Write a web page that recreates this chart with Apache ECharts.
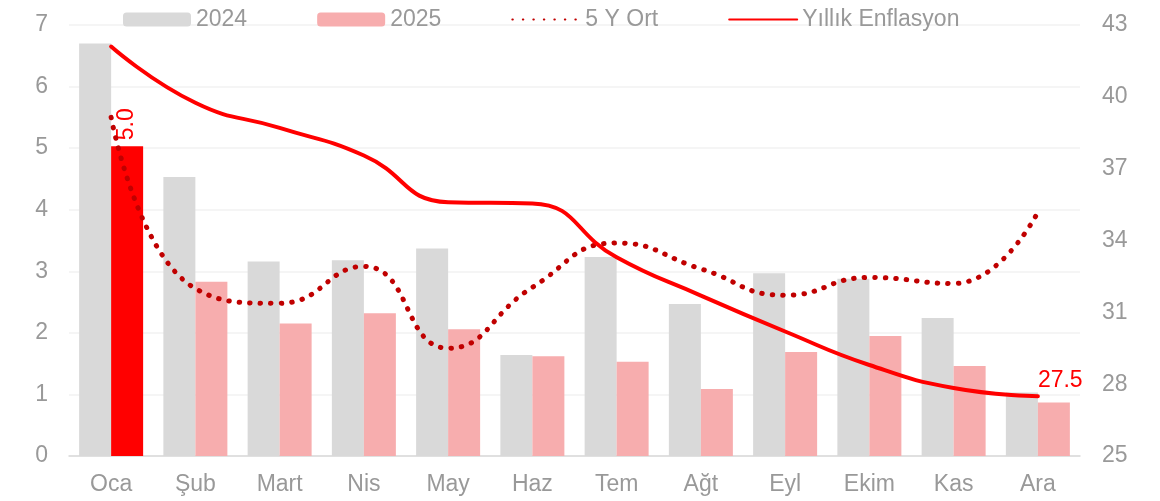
<!DOCTYPE html>
<html>
<head>
<meta charset="utf-8">
<script src="https://cdn.jsdelivr.net/npm/echarts@6/dist/echarts.min.js"></script>
<style>
  html, body { margin: 0; padding: 0; background: #fff; }
  #main { width: 1160px; height: 501px; }
</style>
</head>
<body>
<div id="main"></div>
<script>
var months = ['Oca', 'Şub', 'Mart', 'Nis', 'May', 'Haz', 'Tem', 'Ağt', 'Eyl', 'Ekim', 'Kas', 'Ara'];
var m2024 = [6.70, 4.53, 3.16, 3.18, 3.37, 1.64, 3.23, 2.47, 2.97, 2.88, 2.24, 1.03];
var m2025 = [5.03, 2.83, 2.15, 2.32, 2.06, 1.62, 1.53, 1.09, 1.69, 1.95, 1.46, 0.87];
var avg5y = [5.50, 2.72, 2.48, 3.08, 1.75, 2.74, 3.46, 3.04, 2.61, 2.90, 2.80, 3.96];
var annual = [42.1, 39.75, 38.7, 37.55, 35.6, 35.55, 33.3, 31.7, 30.2, 28.8, 27.84, 27.5];

var grey = '#999999';
var font = 'Arial, "Liberation Sans", sans-serif';
var fs = 23;

var bars25 = m2025.map(function (v, i) {
  if (i === 0) {
    return {
      value: v,
      itemStyle: { color: '#ff0000' },
      label: {
        show: true, position: 'top', rotate: 90, align: 'left', verticalAlign: 'middle',
        distance: 6, color: '#ff0000', fontSize: fs, fontFamily: font,
        formatter: function (p) { return p.value.toFixed(1); }
      }
    };
  }
  return v;
});

var annualData = annual.map(function (v, i) {
  if (i === annual.length - 1) {
    return {
      value: v,
      label: {
        show: true, position: 'top', align: 'left', distance: 4,
        color: '#ff0000', fontSize: fs, fontFamily: font,
        formatter: function (p) { return p.value.toFixed(1); }
      }
    };
  }
  return v;
});

var option = {
  animation: false,
  textStyle: { fontFamily: font },
  legend: {
    left: 118,
    top: 3,
    itemWidth: 68,
    itemHeight: 14,
    itemGap: 70,
    textStyle: { color: grey, fontSize: fs, fontFamily: font },
    data: [
      '2024',
      '2025',
      { name: '5 Y Ort', itemStyle: { opacity: 0 } },
      { name: 'Yıllık Enflasyon', itemStyle: { opacity: 0 } }
    ]
  },
  grid: { left: 69, right: 80, top: 25, bottom: 45, containLabel: false },
  xAxis: {
    type: 'category',
    data: months,
    axisTick: { show: false },
    axisLine: { lineStyle: { color: '#d9d9d9', width: 1.5 } },
    axisLabel: { color: grey, fontSize: fs, margin: 17 }
  },
  yAxis: [
    {
      type: 'value', min: 0, max: 7, interval: 1,
      axisLabel: { color: grey, fontSize: fs, margin: 21 },
      splitLine: { lineStyle: { color: '#f2f2f2', width: 1.5 } }
    },
    {
      type: 'value', min: 25, max: 43, interval: 3,
      axisLabel: { color: grey, fontSize: fs, margin: 22 },
      splitLine: { show: false }
    }
  ],
  series: [
    {
      name: '2024', type: 'bar', data: m2024, barWidth: 32, barGap: '0%',
      itemStyle: { color: '#d9d9d9' }
    },
    {
      name: '2025', type: 'bar', data: bars25, barWidth: 32,
      itemStyle: { color: '#f7adae' }
    },
    {
      name: '5 Y Ort', type: 'line', data: avg5y, smooth: 0.5, symbol: 'none',
      itemStyle: { color: '#c00000' },
      lineStyle: { color: '#c00000', width: 5, type: [0.5, 10], cap: 'round' },
      z: 3
    },
    {
      name: 'Yıllık Enflasyon', type: 'line', yAxisIndex: 1, data: annualData, smooth: 0.5,
      symbol: 'circle', symbolSize: 0, showAllSymbol: true,
      itemStyle: { color: '#ff0000' },
      lineStyle: { color: '#ff0000', width: 4, cap: 'round' },
      z: 4
    }
  ]
};

var myChart = echarts.init(document.getElementById('main'));
myChart.setOption(option);
</script>
</body>
</html>
